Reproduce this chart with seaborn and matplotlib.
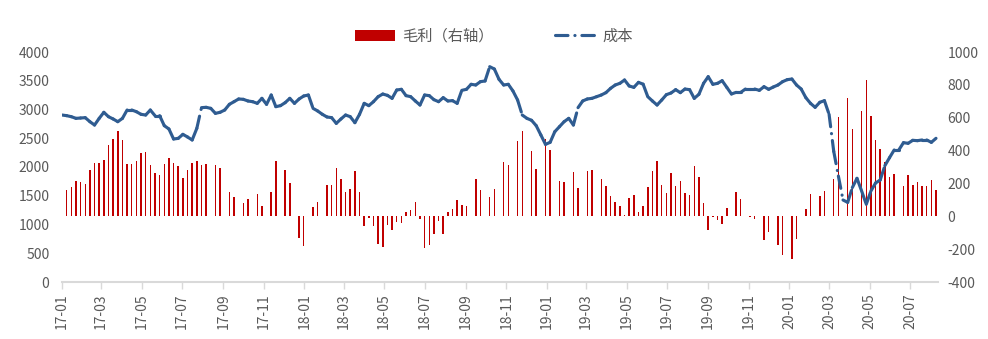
import matplotlib
matplotlib.use("Agg")
import matplotlib.pyplot as plt
import matplotlib.dates as mdates
from matplotlib.patches import Patch
from matplotlib.lines import Line2D
import numpy as np
import pandas as pd
import seaborn as sns

# ---------------- data ----------------
start_date = "2017-01-01"          # weekly observations
cost = [
    2904, 2893, 2875, 2846, 2852, 2858, 2788, 2730, 2846, 2951,
    2875, 2835, 2788, 2846, 2991, 2991, 2962, 2916, 2904, 2991,
    2893, 2893, 2719, 2661, 2487, 2498, 2568, 2522, 2470, 2672,
    3032, 3038, 3020, 2933, 2951, 2991, 3090, 3136, 3183, 3177,
    3148, 3136, 3107, 3194, 3090, 3252, 3049, 3067, 3119, 3194,
    3107, 3183, 3235, 3252, 3020, 2974, 2916, 2870, 2858, 2759,
    2835, 2904, 2875, 2771, 2916, 3107, 3067, 3136, 3223, 3269,
    3246, 3194, 3339, 3351, 3241, 3223, 3148, 3078, 3252, 3241,
    3171, 3136, 3206, 3148, 3154, 3107, 3333, 3351, 3438, 3426,
    3484, 3496, 3745, 3704, 3525, 3426, 3438, 3322, 3165, 2904,
    2846, 2812, 2719, 2557, 2394, 2429, 2614, 2701, 2788, 2846,
    2730, 3032, 3148, 3183, 3194, 3223, 3252, 3293, 3368, 3426,
    3455, 3513, 3409, 3385, 3472, 3440, 3223, 3148, 3078, 3165,
    3258, 3287, 3345, 3293, 3356, 3345, 3194, 3264, 3455, 3571,
    3438, 3455, 3501, 3385, 3270, 3298, 3298, 3356, 3356, 3356,
    3333, 3397, 3351, 3391, 3426, 3484, 3519, 3530, 3426, 3356,
    3206, 3107, 3038, 3125, 3154, 2916, 2272, 1843, 1426, 1385,
    1641, 1803, 1583, 1351, 1583, 1722, 1774, 2023, 2162, 2296,
    2296, 2423, 2412, 2464, 2458, 2470, 2470, 2429, 2499,
]
profit = [
    None, 162, 181, 217, 211, 199, 284, 327, 327, 345,
    436, 473, 522, 467, 321, 321, 339, 388, 394, 315,
    266, 254, 321, 357, 327, 309, 235, 284, 327, 339,
    315, 321, None, 315, 296, None, 150, 120, None, 83,
    108, None, 138, 65, None, 150, 339, None, 284, 205,
    None, -134, -183, None, 59, 89, None, 193, 193, 296,
    229, 150, 168, 278, 150, -61, -12, -61, -170, -189,
    -55, -85, -37, -43, 24, 37, 89, -18, -195, -177,
    -110, -30, -110, 24, 43, 97, 67, 61, None, 229,
    162, None, 116, 168, None, 333, 315, None, 461, 522,
    None, 400, 290, None, 473, 406, None, 217, 211, None,
    272, 175, None, 278, 284, None, 229, 187, 126, 89,
    65, 10, 114, 132, 28, 65, 181, 278, 339, 193,
    144, 266, 187, 217, 144, 132, 309, 242, 83, -85,
    -6, -24, -49, 53, None, 150, 108, None, -6, -18,
    None, -146, -97, None, -177, -237, None, -262, -140, None,
    47, 138, None, 126, 156, None, 229, 607, None, 722,
    534, None, 643, 832, 613, 467, 412, 333, 242, 260,
    None, 187, 254, 193, 209, 187, 187, 223, 162,
]
legend_labels = ["毛利（右轴）", "成本"]
left_ticks = list(range(0, 4001, 500))
right_ticks = list(range(-400, 1001, 200))

# ---------------- style ----------------
BAR_C = "#C00000"
LINE_C = "#2F5C91"
TXT_C = "#595959"
AX_C = "#D9D9D9"
DASH = (0, (4, 2.2, 0.05, 2.2))

sns.set_theme(style="white")
plt.rcParams["font.family"] = ["Noto Sans CJK SC", "DejaVu Sans"]
plt.rcParams["axes.unicode_minus"] = False

dates = pd.date_range(start_date, periods=len(cost), freq="7D")
xnum = mdates.date2num(dates)

fig = plt.figure(figsize=(9.88, 3.39), dpi=100)
ax = fig.add_axes([62 / 988, 1 - 282 / 339, (938 - 62) / 988, (282 - 52) / 339])
ax2 = ax.twinx()

# bars (right axis)
bar_df = pd.DataFrame({"x": xnum, "profit": profit}).dropna()
sns.barplot(data=bar_df, x="x", y="profit", native_scale=True, orient="x",
            color=BAR_C, saturation=1, width=0.32, errorbar=None,
            linewidth=0, ax=ax2)

# cost line (left axis) - each weekly segment drawn as its own dash-dot piece
rows = []
for i in range(len(cost) - 1):
    for j in (i, i + 1):
        rows.append({"x": xnum[j], "cost": cost[j], "seg": i})
seg_df = pd.DataFrame(rows)
sns.lineplot(data=seg_df, x="x", y="cost", units="seg", estimator=None,
             sort=False, color=LINE_C, linewidth=2.25, linestyle=DASH,
             dash_capstyle="round", solid_capstyle="round", legend=False, ax=ax)

ax.set_zorder(ax2.get_zorder() + 1)
ax.patch.set_visible(False)

# axes
ax.set_xlim(xnum[0], xnum[-1] + 3)
ax.set_ylim(0, 4000)
ax.set_yticks(left_ticks)
ax2.set_ylim(-400, 1000)
ax2.set_yticks(right_ticks)
ax.xaxis.set_major_locator(mdates.MonthLocator(bymonth=range(1, 13, 2)))
ax.xaxis.set_major_formatter(mdates.DateFormatter("%y-%m"))

for a in (ax, ax2):
    a.set_xlabel("")
    a.set_ylabel("")
    a.grid(False)
    for s in a.spines.values():
        s.set_visible(False)
ax.spines["bottom"].set_visible(True)
ax.spines["bottom"].set_color(AX_C)
ax.spines["bottom"].set_linewidth(1.5)

ax.tick_params(axis="x", which="major", bottom=True, length=5, width=1,
               color=AX_C, labelcolor=TXT_C, labelsize=10, pad=3,
               labelrotation=90)
ax.tick_params(axis="y", left=False, length=0, labelcolor=TXT_C,
               labelsize=10, pad=9)
ax2.tick_params(axis="y", right=False, length=0, labelcolor=TXT_C,
                labelsize=10, pad=7)

handles = [Patch(facecolor=BAR_C, edgecolor="none"),
           Line2D([0], [0], color=LINE_C, linewidth=2.25, linestyle=DASH,
                  dash_capstyle="round")]
fig.legend(handles, legend_labels, loc="center",
           bbox_to_anchor=(0.5, 1 - 36 / 339), ncol=2, frameon=False,
           fontsize=11, handlelength=2.6, handletextpad=0.5,
           columnspacing=4, labelcolor=TXT_C)

fig.savefig("out.png", dpi=100)
